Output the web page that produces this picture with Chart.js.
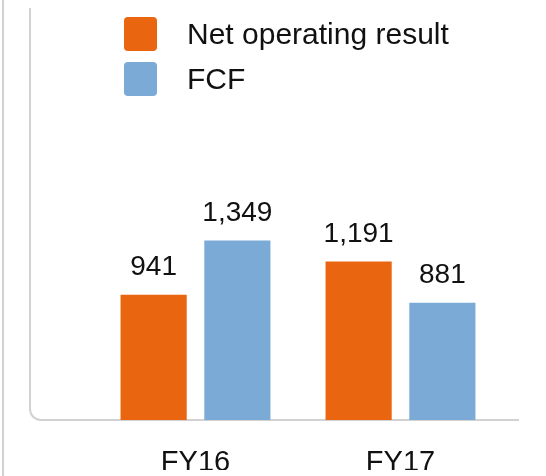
<!DOCTYPE html>
<html>
<head>
<meta charset="utf-8">
<script src="https://cdn.jsdelivr.net/npm/chart.js@4"></script>
<style>
  html, body { margin: 0; padding: 0; background: #fff; }
  #wrap { position: relative; width: 546px; height: 476px; font-family: "Liberation Sans", Arial, sans-serif; }
  #outer-line { position: absolute; left: 2px; top: 0; width: 0; height: 476px; border-left: 2px solid #d2d2d2; }
  #frame { position: absolute; left: 29px; top: 8px; width: 488px; height: 411px;
    border-left: 2px solid #d2d2d2; border-bottom: 2px solid #d2d2d2; border-bottom-left-radius: 12px; }
  #legend { position: absolute; left: 124px; top: 17px; }
  .item { display: flex; align-items: center; height: 34px; margin-bottom: 11px; }
  .box { width: 33px; height: 34px; border-radius: 4px; margin-right: 30px; }
  .item span { font-size: 30px; color: #111; }
  canvas { position: absolute; left: 0; top: 0; }
</style>
</head>
<body>
<div id="wrap">
  <div id="outer-line"></div>
  <div id="frame"></div>
  <canvas id="chart" width="546" height="476"></canvas>
  <div id="legend"></div>
</div>
<script>
const categories = ["FY16", "FY17"];
const seriesNames = ["Net operating result", "FCF"];
const netOperating = [941, 1191];
const fcf = [1349, 881];
const colors = ["#ea650f", "#7baad6"];

// html legend
const legend = document.getElementById("legend");
seriesNames.forEach((name, i) => {
  const item = document.createElement("div");
  item.className = "item";
  item.innerHTML = `<div class="box" style="background:${colors[i]}"></div><span>${name}</span>`;
  legend.appendChild(item);
});

// value labels above bars
const valueLabels = {
  id: "valueLabels",
  afterDatasetsDraw(chart) {
    const ctx = chart.ctx;
    ctx.save();
    ctx.font = '28px "Liberation Sans", Arial, sans-serif';
    ctx.fillStyle = "#111";
    ctx.textAlign = "center";
    ctx.textBaseline = "alphabetic";
    chart.data.datasets.forEach((ds, i) => {
      chart.getDatasetMeta(i).data.forEach((bar, j) => {
        ctx.fillText(ds.data[j].toLocaleString("en-US"), bar.x, bar.y - 20);
      });
    });
    ctx.restore();
  }
};

new Chart(document.getElementById("chart"), {
  type: "bar",
  data: {
    labels: categories,
    datasets: [
      { label: seriesNames[0], data: netOperating, backgroundColor: colors[0] },
      { label: seriesNames[1], data: fcf, backgroundColor: colors[1] }
    ]
  },
  options: {
    responsive: false,
    animation: false,
    events: [],
    categoryPercentage: 0.817,
    barPercentage: 0.79,
    layout: { padding: { left: 93, right: 43, top: 21, bottom: 6 } },
    plugins: { legend: { display: false }, tooltip: { enabled: false } },
    scales: {
      x: {
        grid: { display: false, drawTicks: false },
        border: { display: false },
        afterFit(scale) { scale.height = 50; },
        ticks: { color: "#111", padding: 26, font: { family: '"Liberation Sans", Arial, sans-serif', size: 29 } }
      },
      y: { display: false, min: 0, max: 3000 }
    }
  },
  plugins: [valueLabels]
});
</script>
</body>
</html>
